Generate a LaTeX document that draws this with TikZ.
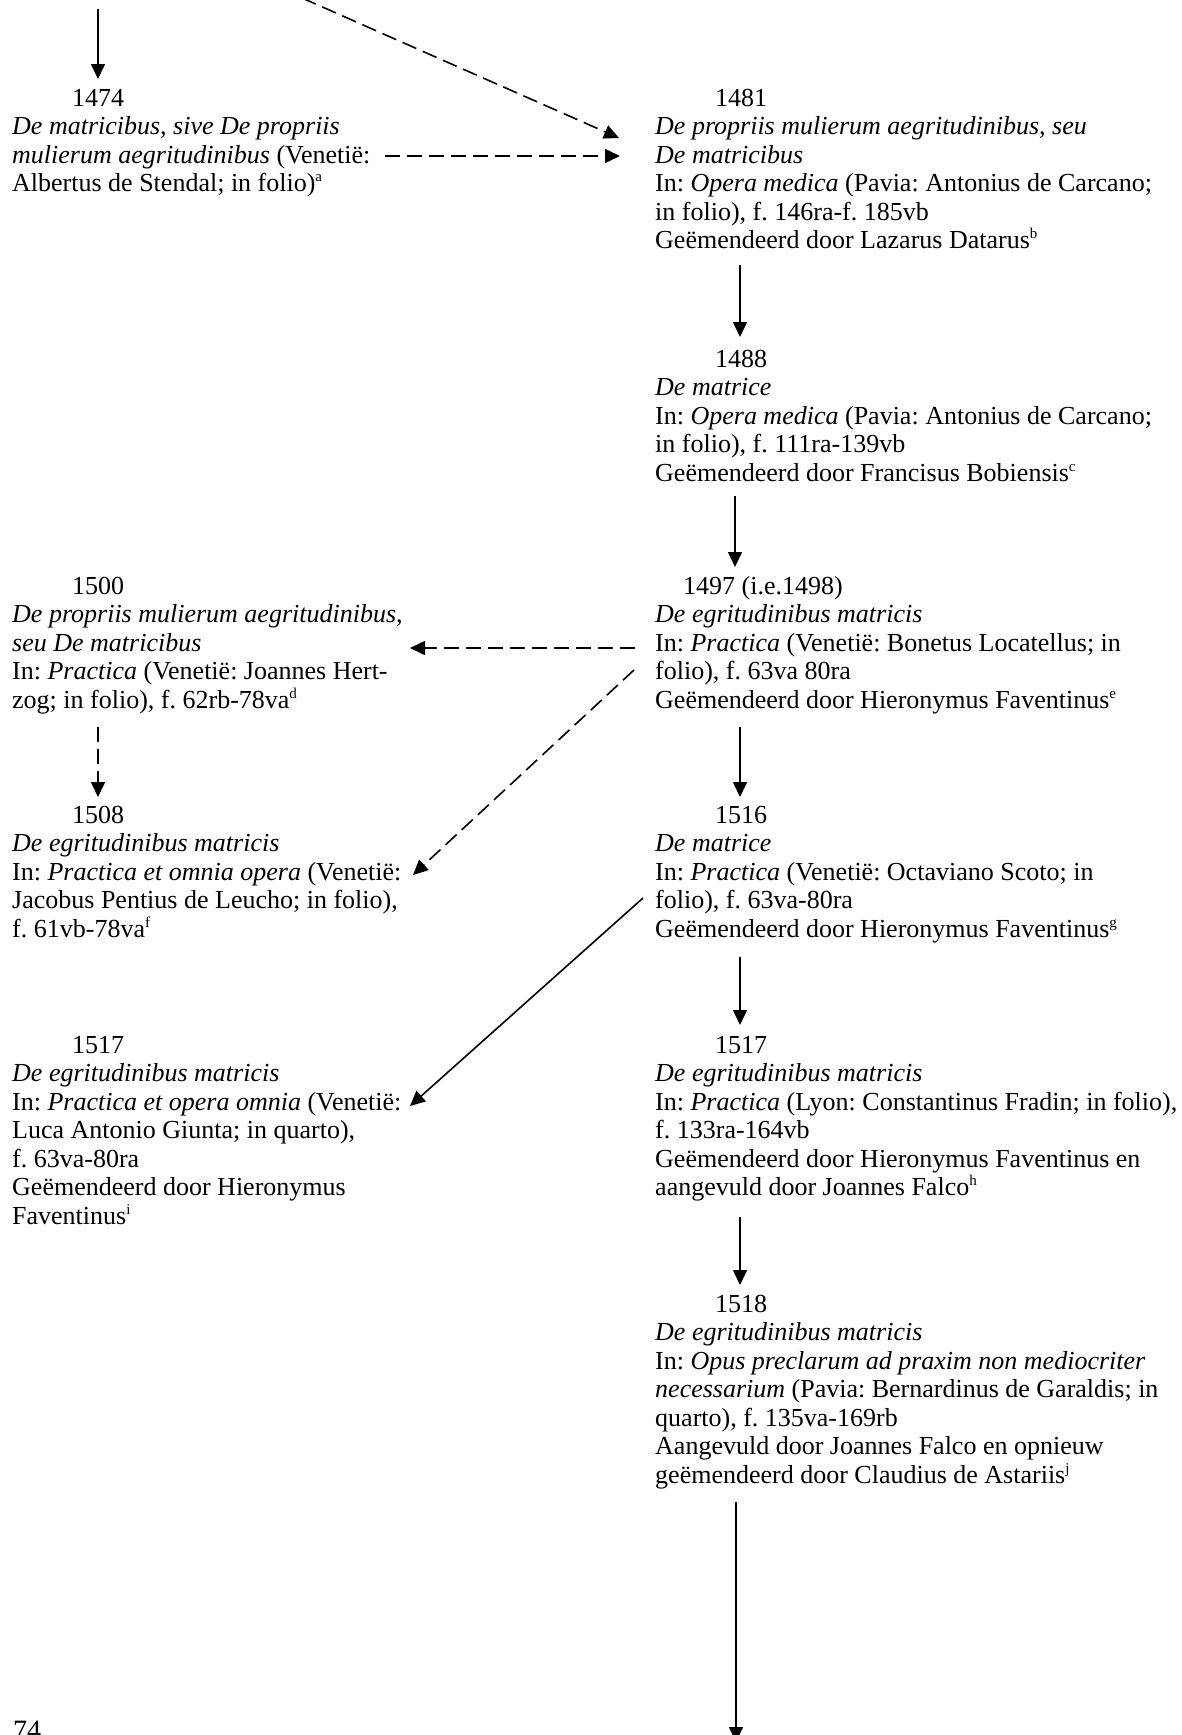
\documentclass[tikz,border=0pt]{standalone}
\usepackage{fontspec}
\setmainfont{Liberation Serif}
\usetikzlibrary{arrows.meta,calc}
\frenchspacing
\newcommand\fnm[1]{\raisebox{10pt}{\fontsize{15}{15}\selectfont #1}}
\newcommand\blk[1]{\begin{tabular}[t]{@{}l@{}}#1\end{tabular}}
\tikzset{
  entry/.style={anchor=base west, inner sep=0pt, font=\fontsize{26}{28.5}\selectfont\frenchspacing},
  arr/.style={line width=1.6pt, -{Triangle[length=15pt,width=14pt]}},
  darr/.style={arr, dash pattern=on 15pt off 7pt},
}
\begin{document}
\begin{tikzpicture}[x=1pt,y=-1pt]
\useasboundingbox (0,0) rectangle (1182,1735);

\node[entry] (L1474) at (12,106) {\blk{\hspace*{60pt}1474\\
\textit{De matricibus, sive De propriis}\\
\textit{mulierum aegritudinibus} (Venetië:\\
Albertus de Stendal; in folio)\fnm{a}}};

\node[entry] (R1481) at (655,106) {\blk{\hspace*{60pt}1481\\
\textit{De propriis mulierum aegritudinibus, seu}\\
\textit{De matricibus}\\
In: \textit{Opera medica} (Pavia: Antonius de Carcano;\\
in folio), f. 146ra-f. 185vb\\
Geëmendeerd door Lazarus Datarus\fnm{b}}};

\node[entry] (R1488) at (655,367) {\blk{\hspace*{60pt}1488\\
\textit{De matrice}\\
In: \textit{Opera medica} (Pavia: Antonius de Carcano;\\
in folio), f. 111ra-139vb\\
Geëmendeerd door Francisus Bobiensis\fnm{c}}};

\node[entry] (L1500) at (12,594) {\blk{\hspace*{60pt}1500\\
\textit{De propriis mulierum aegritudinibus,}\\
\textit{seu De matricibus}\\
In: \textit{Practica} (Venetië: Joannes Hert-\\
zog; in folio), f. 62rb-78va\fnm{d}}};

\node[entry] (R1497) at (655,594) {\blk{\hspace*{28pt}1497 (i.e.1498)\\
\textit{De egritudinibus matricis}\\
In: \textit{Practica} (Venetië: Bonetus Locatellus; in\\
folio), f. 63va 80ra\\
Geëmendeerd door Hieronymus Faventinus\fnm{e}}};

\node[entry] (L1508) at (12,823) {\blk{\hspace*{60pt}1508\\
\textit{De egritudinibus matricis}\\
In: \textit{Practica et omnia opera} (Venetië:\\
Jacobus Pentius de Leucho; in folio),\\
f. 61vb-78va\fnm{f}}};

\node[entry] (R1516) at (655,823) {\blk{\hspace*{60pt}1516\\
\textit{De matrice}\\
In: \textit{Practica} (Venetië: Octaviano Scoto; in\\
folio), f. 63va-80ra\\
Geëmendeerd door Hieronymus Faventinus\fnm{g}}};

\node[entry] (L1517) at (12,1053) {\blk{\hspace*{60pt}1517\\
\textit{De egritudinibus matricis}\\
In: \textit{Practica et opera omnia} (Venetië:\\
Luca Antonio Giunta; in quarto),\\
f. 63va-80ra\\
Geëmendeerd door Hieronymus\\
Faventinus\fnm{i}}};

\node[entry] (R1517) at (655,1053) {\blk{\hspace*{60pt}1517\\
\textit{De egritudinibus matricis}\\
In: \textit{Practica} (Lyon: Constantinus Fradin; in folio),\\
f. 133ra-164vb\\
Geëmendeerd door Hieronymus Faventinus en\\
aangevuld door Joannes Falco\fnm{h}}};

\node[entry] (R1518) at (655,1312) {\blk{\hspace*{60pt}1518\\
\textit{De egritudinibus matricis}\\
In: \textit{Opus preclarum ad praxim non mediocriter}\\
\textit{necessarium} (Pavia: Bernardinus de Garaldis; in\\
quarto), f. 135va-169rb\\
Aangevuld door Joannes Falco en opnieuw\\
geëmendeerd door Claudius de Astariis\fnm{j}}};

\node[anchor=base west, inner sep=0pt, font=\fontsize{28}{28}\selectfont] (page) at (13,1739) {74};

\coordinate (top0) at (98,9);
\coordinate (top1) at (302,-2);
\coordinate (bot) at (736,1742);

% connectors
\draw[arr] (top0) -- ($(L1474.base west)+(86,-27)$);
\draw[darr] (top1) -- ($(R1481.base west)+(-36,32)$);
\draw[darr] ($(L1474.base west)+(373,50)$) -- ($(R1481.base west)+(-35,50)$);
\draw[arr] ($(R1481.base west)+(85,159)$) -- ($(R1488.base west)+(85,-30)$);
\draw[arr] ($(R1488.base west)+(80,129)$) -- ($(R1497.base west)+(80,-27)$);
\draw[darr] ($(R1497.base west)+(-20,54)$) -- ($(L1500.base west)+(398,54)$);
\draw[darr] ($(R1497.base west)+(-21,76)$) -- ($(L1508.base west)+(401,52)$);
\draw[darr] ($(L1500.base west)+(86,133)$) -- ($(L1508.base west)+(86,-26)$);
\draw[arr] ($(R1497.base west)+(85,133)$) -- ($(R1516.base west)+(85,-26)$);
\draw[arr] ($(R1516.base west)+(-12,75)$) -- ($(L1517.base west)+(398,53)$);
\draw[arr] ($(R1516.base west)+(85,134)$) -- ($(R1517.base west)+(85,-28)$);
\draw[arr] ($(R1517.base west)+(85,164)$) -- ($(R1518.base west)+(85,-27)$);
\draw[arr] ($(R1518.base west)+(81,190)$) -- (bot);
\end{tikzpicture}
\end{document}
